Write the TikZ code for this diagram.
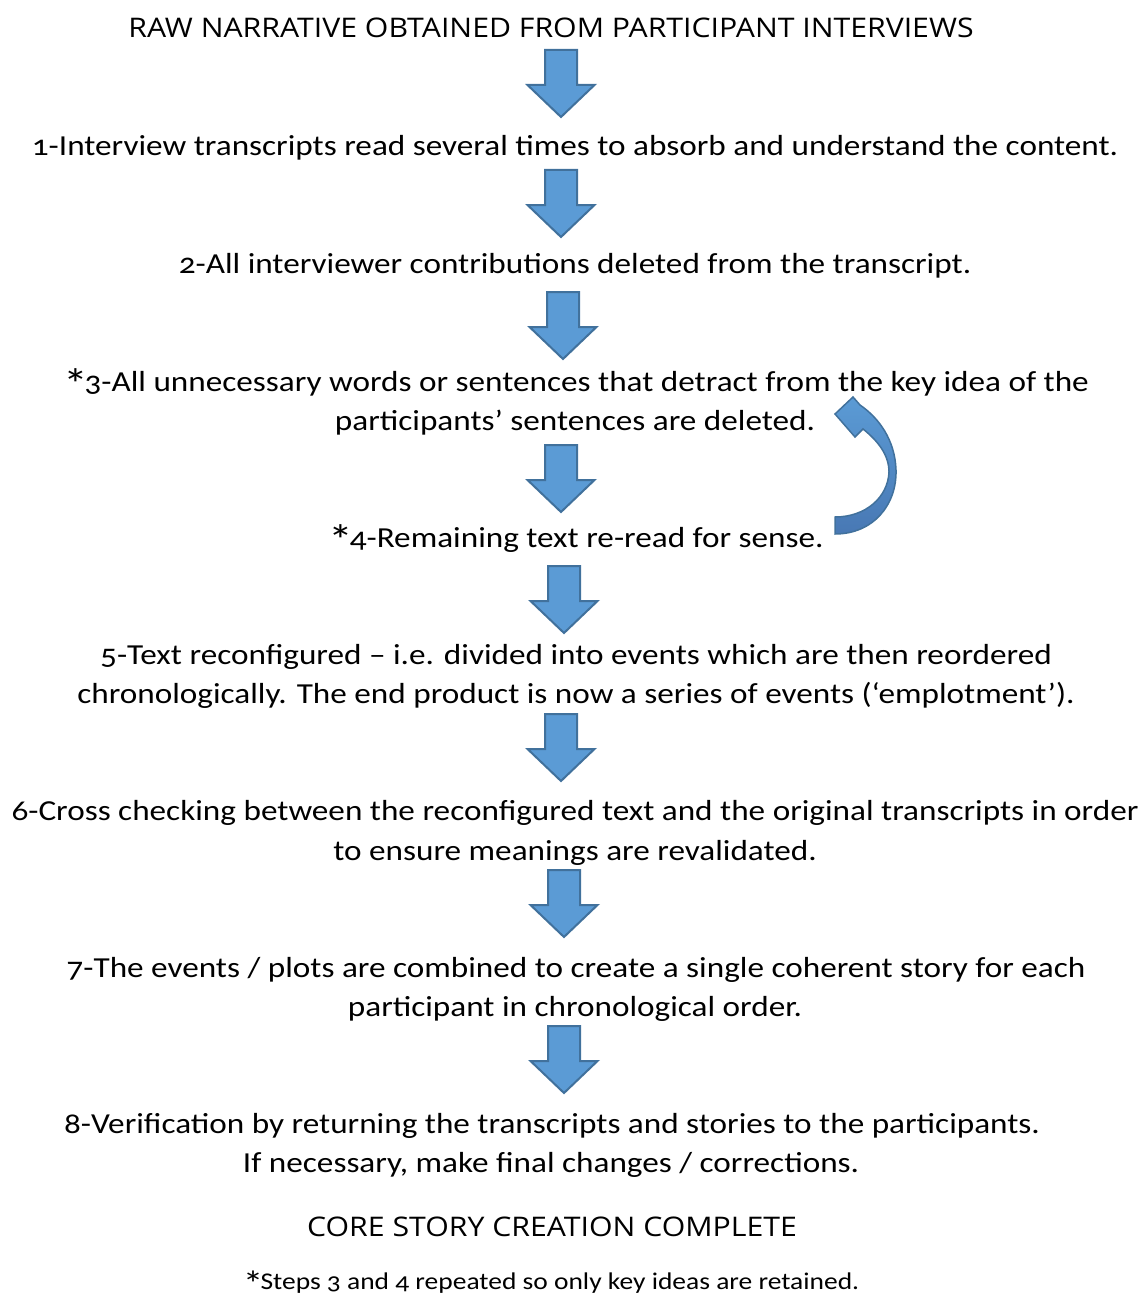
\documentclass[tikz,border=0pt]{standalone}
\usepackage{fontspec}
\setmainfont{Carlito}[Numbers=OldStyle,FakeStretch=1.145]
\newfontfamily\headfont{Open Sans}[FakeStretch=1.12]
\newcommand\repmark{\raisebox{-0.3em}[0pt][0pt]{\scalebox{1.5}{*}}\kern-0.12em}
\begin{document}
\begin{tikzpicture}[x=1pt,y=-1pt,
  body/.style={font=\fontsize{29}{34}\selectfont, anchor=base, inner sep=0pt},
  head/.style={font=\headfont\fontsize{27}{30}\selectfont, anchor=base, inner sep=0pt},
  note/.style={font=\fontsize{24}{26}\selectfont, anchor=base, inner sep=0pt},
  arrowfill/.style={fill={rgb,255:red,91;green,155;blue,213}, draw={rgb,255:red,65;green,113;blue,156}, line width=2pt, line join=miter},
  blockdown/.pic={\path[arrowfill] (-16,0) -- (16,0) -- (16,35) -- (33.5,35) -- (0,67) -- (-33.5,35) -- (-16,35) -- cycle;}
]
\useasboundingbox (0,0) rectangle (1146,1300);

% step texts
\node[head] (raw) at (551,38) {RAW NARRATIVE OBTAINED FROM PARTICIPANT INTERVIEWS};
\node[body] (s1) at (575,156) {1-Interview transcripts read several times to absorb and understand the content.};
\node[body] (s2) at (575,273) {2-All interviewer contributions deleted from the transcript.};
\node[body] (s3a) at (576,391) {\repmark3-All unnecessary words or sentences that detract from the key idea of the};
\node[body] (s3b) at (575,430) {participants’ sentences are deleted.};
\node[body] (s4) at (576,547) {\repmark4-Remaining text re-read for sense.};
\node[body] (s5a) at (576,664) {5-Text reconfigured – i.e. divided into events which are then reordered};
\node[body] (s5b) at (576,703) {chronologically. The end product is now a series of events (‘emplotment’).};
\node[body] (s6a) at (575,820) {6-Cross checking between the reconfigured text and the original transcripts in order};
\node[body] (s6b) at (575,860) {to ensure meanings are revalidated.};
\node[body] (s7a) at (576,977) {7-The events / plots are combined to create a single coherent story for each};
\node[body] (s7b) at (575,1016) {participant in chronological order.};
\node[body] (s8a) at (552,1133) {8-Verification by returning the transcripts and stories to the participants.};
\node[body] (s8b) at (551,1172) {If necessary, make final changes / corrections.};
\node[head] (core) at (552,1236) {CORE STORY CREATION COMPLETE};
\node[note] (foot) at (551,1289) {\repmark Steps 3 and 4 repeated so only key ideas are retained.};

% block arrows between the steps
\pic at (561,50) {blockdown};
\pic at (561,170) {blockdown};
\pic at (563,292) {blockdown};
\pic at (561,445) {blockdown};
\pic at (564,566) {blockdown};
\pic at (561,714) {blockdown};
\pic at (564,870) {blockdown};
\pic at (564,1026) {blockdown};

% curved return arrow from step 4 back to step 3
\path[draw={rgb,255:red,65;green,113;blue,156}, line width=1.5pt, line join=miter,
      top color={rgb,255:red,91;green,155;blue,213}, bottom color={rgb,255:red,72;green,120;blue,180}]
  (835,534) .. controls (873,534) and (897,505) .. (896,470)
  .. controls (895,440) and (879,418) .. (860,405)
  -- (853,397) -- (835,414) -- (855,437) -- (863,429)
  .. controls (878,441) and (889,455) .. (889,472)
  .. controls (888,497) and (866,517) .. (835,517)
  -- cycle;
\end{tikzpicture}
\end{document}
